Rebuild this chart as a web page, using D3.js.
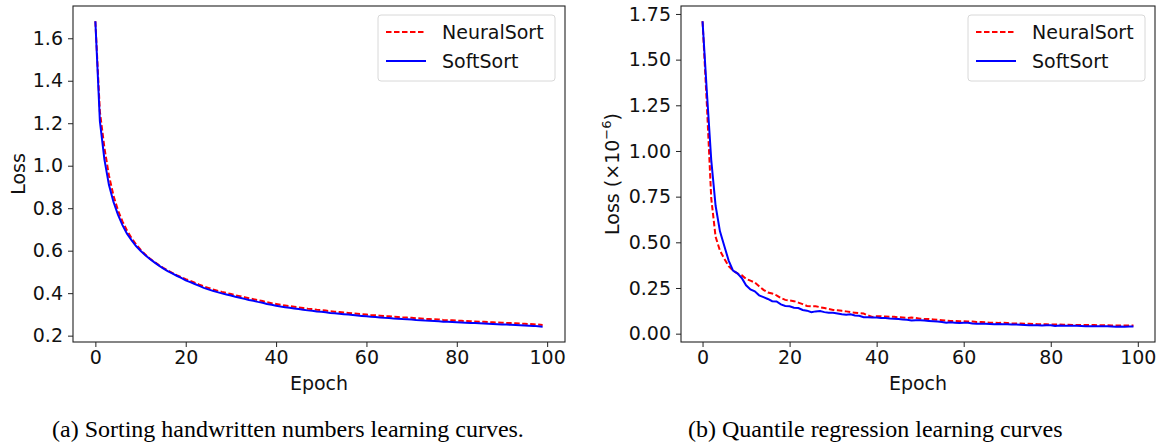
<!DOCTYPE html>
<html>
<head>
<meta charset="utf-8">
<script src="https://cdn.jsdelivr.net/npm/d3@7"></script>
<style>
  body { margin: 0; background: #fff; }
  svg text { font-family: "DejaVu Sans", sans-serif; fill: #111; }
  svg text.caption { font-family: "Liberation Serif", "Times New Roman", serif; fill: #000; }
</style>
</head>
<body>
<div id="chart"></div>
<script>
// Epochs 0..99
var epochs = d3.range(0, 100);

// Panel (a): sorting handwritten numbers
var sortNeural = [
  1.680, 1.255, 1.085, 0.955, 0.860, 0.790, 0.738, 0.695, 0.660, 0.630,
  0.605, 0.583, 0.564, 0.548, 0.533, 0.519, 0.507, 0.496, 0.485, 0.475,
  0.466, 0.458, 0.449, 0.440, 0.432, 0.425, 0.418, 0.412, 0.406, 0.401,
  0.396, 0.390, 0.386, 0.381, 0.376, 0.372, 0.367, 0.363, 0.357, 0.353,
  0.349, 0.345, 0.342, 0.339, 0.336, 0.333, 0.330, 0.327, 0.325, 0.322,
  0.320, 0.318, 0.315, 0.313, 0.311, 0.309, 0.307, 0.305, 0.303, 0.301,
  0.299, 0.297, 0.296, 0.294, 0.292, 0.291, 0.289, 0.288, 0.286, 0.285,
  0.284, 0.282, 0.281, 0.279, 0.278, 0.277, 0.276, 0.274, 0.273, 0.272,
  0.271, 0.270, 0.269, 0.268, 0.267, 0.266, 0.265, 0.264, 0.263, 0.262,
  0.261, 0.260, 0.259, 0.258, 0.257, 0.256, 0.255, 0.254, 0.252, 0.250
];
var sortSoft = [
  1.680, 1.210, 1.030, 0.910, 0.830, 0.770, 0.720, 0.680, 0.650, 0.622,
  0.600, 0.580, 0.562, 0.546, 0.531, 0.517, 0.504, 0.493, 0.482, 0.472,
  0.460, 0.452, 0.443, 0.434, 0.425, 0.418, 0.411, 0.405, 0.399, 0.394,
  0.389, 0.383, 0.378, 0.373, 0.368, 0.364, 0.359, 0.355, 0.349, 0.345,
  0.341, 0.337, 0.334, 0.331, 0.328, 0.325, 0.322, 0.319, 0.317, 0.314,
  0.312, 0.310, 0.307, 0.305, 0.303, 0.301, 0.299, 0.297, 0.295, 0.293,
  0.291, 0.289, 0.288, 0.286, 0.284, 0.283, 0.281, 0.280, 0.278, 0.277,
  0.276, 0.274, 0.273, 0.271, 0.270, 0.269, 0.268, 0.266, 0.265, 0.264,
  0.263, 0.262, 0.261, 0.260, 0.259, 0.258, 0.257, 0.256, 0.255, 0.254,
  0.253, 0.252, 0.251, 0.250, 0.249, 0.248, 0.247, 0.246, 0.244, 0.242
];

// Panel (b): quantile regression (x 1e-6)
var quantNeural = [
  1.710, 1.250, 0.740, 0.530, 0.455, 0.410, 0.370, 0.345, 0.330, 0.320,
  0.300, 0.290, 0.280, 0.260, 0.240, 0.225, 0.220, 0.210, 0.195, 0.185,
  0.182, 0.178, 0.170, 0.162, 0.152, 0.150, 0.150, 0.145, 0.140, 0.135,
  0.130, 0.128, 0.125, 0.122, 0.118, 0.115, 0.112, 0.110, 0.100, 0.092,
  0.096, 0.096, 0.094, 0.092, 0.092, 0.090, 0.088, 0.086, 0.088, 0.086,
  0.082, 0.080, 0.080, 0.078, 0.076, 0.074, 0.072, 0.070, 0.070, 0.068,
  0.068, 0.067, 0.066, 0.064, 0.064, 0.062, 0.060, 0.060, 0.059, 0.060,
  0.058, 0.056, 0.056, 0.055, 0.054, 0.054, 0.053, 0.052, 0.051, 0.051,
  0.050, 0.050, 0.050, 0.049, 0.049, 0.048, 0.048, 0.048, 0.047, 0.047,
  0.047, 0.046, 0.046, 0.046, 0.045, 0.045, 0.045, 0.045, 0.045, 0.045
];
var quantSoft = [
  1.710, 1.320, 0.950, 0.700, 0.560, 0.480, 0.400, 0.345, 0.330, 0.305,
  0.265, 0.242, 0.232, 0.210, 0.200, 0.190, 0.178, 0.176, 0.160, 0.152,
  0.150, 0.142, 0.140, 0.130, 0.126, 0.118, 0.122, 0.124, 0.118, 0.114,
  0.114, 0.110, 0.106, 0.104, 0.106, 0.100, 0.098, 0.090, 0.090, 0.088,
  0.088, 0.086, 0.086, 0.083, 0.082, 0.080, 0.078, 0.076, 0.072, 0.074,
  0.073, 0.072, 0.070, 0.068, 0.066, 0.064, 0.060, 0.062, 0.060, 0.058,
  0.060, 0.060, 0.056, 0.054, 0.054, 0.054, 0.053, 0.052, 0.053, 0.052,
  0.051, 0.050, 0.050, 0.049, 0.048, 0.046, 0.046, 0.046, 0.045, 0.046,
  0.046, 0.042, 0.045, 0.044, 0.044, 0.043, 0.043, 0.042, 0.041, 0.041,
  0.040, 0.040, 0.040, 0.040, 0.039, 0.038, 0.039, 0.038, 0.039, 0.039
];

var xTicks = [0, 20, 40, 60, 80, 100];
var sortYTicks = [0.2, 0.4, 0.6, 0.8, 1.0, 1.2, 1.4, 1.6];
var quantYTicks = [0.00, 0.25, 0.50, 0.75, 1.00, 1.25, 1.50, 1.75];
var seriesNames = ["NeuralSort", "SoftSort"];
var captions = ["(a) Sorting handwritten numbers learning curves.", "(b) Quantile regression learning curves"];

var svgWidth = 1161;
var svgHeight = 446;

var svg = d3.select("#chart")
  .append("svg")
  .attr("width", svgWidth)
  .attr("height", svgHeight);

// pad the domain like matplotlib does (5% each side)
function padded(ext) {
  var m = (ext[1] - ext[0]) * 0.05;
  return [ext[0] - m, ext[1] + m];
}

function drawPanel(opts) {
  var width = opts.right - opts.left;
  var height = opts.bottom - opts.top;
  var g = svg.append("g")
    .attr("transform", `translate(${opts.left}, ${opts.top})`);

  var x = d3.scaleLinear()
    .domain(padded(d3.extent(epochs)))
    .range([0, width]);
  var y = d3.scaleLinear()
    .domain(padded(d3.extent(opts.neural.concat(opts.soft))))
    .range([height, 0]);

  // Axes
  var xAxis = g.append("g")
    .attr("transform", `translate(0, ${height})`)
    .call(d3.axisBottom(x).tickValues(xTicks).tickSize(5).tickPadding(4).tickFormat(d3.format("d")));
  var yAxis = g.append("g")
    .call(d3.axisLeft(y).tickValues(opts.yTicks).tickSize(5).tickPadding(5).tickFormat(d3.format(opts.yFormat)));
  [xAxis, yAxis].forEach(function(a) {
    a.select(".domain").remove();
    a.selectAll("line").attr("stroke", "#222").attr("stroke-width", 1);
    a.selectAll("text").attr("font-size", 19).attr("fill", "#111")
      .attr("font-family", "DejaVu Sans, sans-serif");
  });

  // Lines
  var line = d3.line()
    .x((d, i) => x(epochs[i]))
    .y(d => y(d));

  g.append("path")
    .datum(opts.neural)
    .attr("fill", "none")
    .attr("stroke", "#ff0000")
    .attr("stroke-width", 2)
    .attr("stroke-dasharray", "5.5,2.5")
    .attr("d", line);

  g.append("path")
    .datum(opts.soft)
    .attr("fill", "none")
    .attr("stroke", "#0000ff")
    .attr("stroke-width", 2)
    .attr("d", line);

  // Frame
  g.append("rect")
    .attr("width", width)
    .attr("height", height)
    .attr("fill", "none")
    .attr("stroke", "#222")
    .attr("stroke-width", 1.1);

  // Axis labels
  g.append("text")
    .attr("x", width / 2)
    .attr("y", 384)
    .attr("text-anchor", "middle")
    .attr("font-size", 19)
    .text("Epoch");

  var yl = g.append("text")
    .attr("transform", `translate(${opts.yLabelX - opts.left}, ${height / 2}) rotate(-90)`)
    .attr("text-anchor", "middle")
    .attr("font-size", 19);
  yl.append("tspan").text(opts.yLabel);
  if (opts.yLabelSup) {
    yl.append("tspan").attr("font-size", 13).attr("dy", "-0.6em").text(opts.yLabelSup);
    yl.append("tspan").attr("dy", "0.42em").text(")");
  }

  // Legend
  var lg = g.append("g")
    .attr("transform", `translate(${width - 187}, 9)`);
  lg.append("rect")
    .attr("width", 177)
    .attr("height", 66)
    .attr("rx", 3)
    .attr("fill", "#fff")
    .attr("fill-opacity", 0.8)
    .attr("stroke", "#d8d8d8")
    .attr("stroke-width", 1);
  seriesNames.forEach(function(name, i) {
    var ly = 17 + i * 29;
    lg.append("line")
      .attr("x1", 8).attr("x2", 48)
      .attr("y1", ly).attr("y2", ly)
      .attr("stroke", i == 0 ? "#ff0000" : "#0000ff")
      .attr("stroke-width", 2)
      .attr("stroke-dasharray", i == 0 ? "5.5,2.5" : null);
    lg.append("text")
      .attr("x", 64)
      .attr("y", ly + 7)
      .attr("font-size", 19)
      .text(name);
  });

  // Caption
  svg.append("text")
    .attr("class", "caption")
    .attr("x", opts.captionX)
    .attr("y", 437)
    .attr("font-size", 24)
    .text(opts.caption);
}

drawPanel({
  left: 73, right: 565, top: 6, bottom: 342,
  neural: sortNeural, soft: sortSoft,
  yTicks: sortYTicks, yFormat: ".1f",
  yLabel: "Loss", yLabelX: 25,
  caption: captions[0], captionX: 52
});

drawPanel({
  left: 681, right: 1155, top: 6, bottom: 342,
  neural: quantNeural, soft: quantSoft,
  yTicks: quantYTicks, yFormat: ".2f",
  yLabel: "Loss (\u00d710", yLabelSup: "\u22126", yLabelX: 619,
  caption: captions[1], captionX: 688
});
</script>
</body>
</html>
